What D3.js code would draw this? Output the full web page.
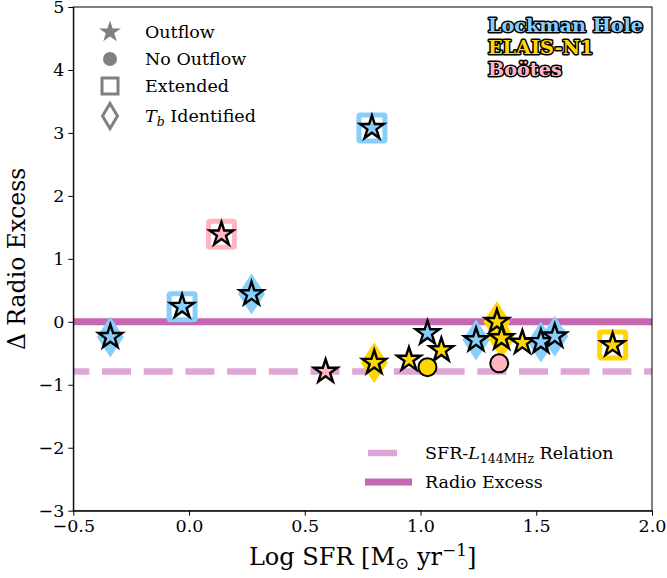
<!DOCTYPE html>
<html>
<head>
<meta charset="utf-8">
<script src="https://cdn.jsdelivr.net/npm/d3@7"></script>
<style>
body { margin: 0; background: #fff; }
text { font-family: "DejaVu Serif", serif; fill: #000; }
</style>
</head>
<body>
<svg id="chart" width="667" height="578"></svg>
<script>

//data
var field = ["L","L","B","L","L","B","E","E","L","E","E","L","E","E","B","E","L","L","E"];
var log_sfr = [-0.34,-0.03,0.14,0.27,0.79,0.59,0.80,0.95,1.03,1.03,1.09,1.24,1.33,1.35,1.34,1.44,1.52,1.58,1.83];
var radio_excess = [-0.24,0.24,1.39,0.44,3.08,-0.79,-0.65,-0.60,-0.18,-0.72,-0.45,-0.29,0.00,-0.26,-0.66,-0.33,-0.32,-0.23,-0.37];
var has_outflow = [1,1,1,1,1,1,1,1,1,0,1,1,1,1,0,1,1,1,1];
var is_extended = [0,1,1,0,1,0,0,0,0,0,0,0,0,0,0,0,0,0,1];
var tb_identified = [1,0,0,1,0,0,1,0,0,0,0,1,1,1,0,0,1,1,0];

var x_ticks = [-0.5,0,0.5,1,1.5,2];
var y_ticks = [-3,-2,-1,0,1,2,3,4,5];
var excess_level = 0;
var relation_level = -0.79;

var field_names = ["Lockman Hole","ELAIS-N1","Boötes"];
var field_keys = ["L","E","B"];
var field_colours = {"L":"#87cefa","E":"#ffd700","B":"#ffb6c1"};

var points = log_sfr.map(function(d,i){
    return {x:d, y:radio_excess[i], field:field[i], outflow:has_outflow[i],
            extended:is_extended[i], tb:tb_identified[i]};
});

var svg = d3.select("#chart");
var plot_left = 73.3, plot_right = 652, plot_top = 7, plot_bottom = 510.7;

var x_scale = d3.scaleLinear().domain([-0.5,2]).range([plot_left,plot_right]);
var y_scale = d3.scaleLinear().domain([-3,5]).range([plot_bottom,plot_top]);

var star_r = 12.5;
var star_size = star_r * star_r / 0.8908130915292852;
var diamond_path = function(hw,hh){ return "M0," + (-hh) + "L" + hw + ",0L0," + hh + "L" + (-hw) + ",0Z"; };

svg.append("defs").append("clipPath").attr("id","plot_clip")
    .append("rect").attr("x",plot_left).attr("y",plot_top)
    .attr("width",plot_right-plot_left).attr("height",plot_bottom-plot_top);

//reference lines
var line_group = svg.append("g").attr("clip-path","url(#plot_clip)");
line_group.append("line")
    .attr("x1",plot_left).attr("x2",plot_right)
    .attr("y1",y_scale(relation_level)).attr("y2",y_scale(relation_level))
    .attr("stroke","#dea6d6").attr("stroke-width",6.5)
    .attr("stroke-dasharray","29,12.7").attr("stroke-dashoffset",13);
line_group.append("line")
    .attr("x1",plot_left).attr("x2",plot_right)
    .attr("y1",y_scale(excess_level)).attr("y2",y_scale(excess_level))
    .attr("stroke","#c466b0").attr("stroke-width",7);

//background markers: extended squares, Tb diamonds
var marks = svg.append("g");
marks.selectAll(".tb_mark")
    .data(points.filter(f => f.tb))
    .join("path").attr("class","tb_mark")
    .attr("d", diamond_path(13.5,20.5))
    .attr("transform", d => "translate(" + x_scale(d.x) + "," + y_scale(d.y) + ")")
    .attr("fill", d => field_colours[d.field]);

marks.selectAll(".ext_mark")
    .data(points.filter(f => f.extended))
    .join("rect").attr("class","ext_mark")
    .attr("x", d => x_scale(d.x) - 13).attr("y", d => y_scale(d.y) - 13)
    .attr("width",26).attr("height",26).attr("rx",1.5)
    .attr("fill","none").attr("stroke", d => field_colours[d.field]).attr("stroke-width",5);

//stars and circles
marks.selectAll(".star_mark")
    .data(points.filter(f => f.outflow))
    .join("path").attr("class","star_mark")
    .attr("d", d3.symbol(d3.symbolStar, star_size))
    .attr("transform", d => "translate(" + x_scale(d.x) + "," + y_scale(d.y) + ")")
    .attr("fill", d => field_colours[d.field])
    .attr("stroke","#000").attr("stroke-width",2.4).attr("stroke-linejoin","miter");

marks.selectAll(".circle_mark")
    .data(points.filter(f => !f.outflow))
    .join("circle").attr("class","circle_mark")
    .attr("cx", d => x_scale(d.x)).attr("cy", d => y_scale(d.y)).attr("r",9)
    .attr("fill", d => field_colours[d.field])
    .attr("stroke","#000").attr("stroke-width",2);

//axes
var fmt = d3.format(".1f");
var x_axis = svg.append("g").attr("transform","translate(0," + plot_bottom + ")")
    .call(d3.axisBottom(x_scale).tickValues(x_ticks).tickFormat(fmt).tickSize(5).tickSizeOuter(0).tickPadding(4));
var y_axis = svg.append("g").attr("transform","translate(" + plot_left + ",0)")
    .call(d3.axisLeft(y_scale).tickValues(y_ticks).tickFormat(d3.format("d")).tickSize(5).tickSizeOuter(0).tickPadding(4));
[x_axis,y_axis].forEach(function(a){
    a.selectAll("text").attr("font-family","DejaVu Serif").attr("font-size",17.5).attr("fill","#000");
    a.selectAll("line").attr("stroke","#000").attr("stroke-width",1);
    a.select(".domain").attr("stroke","#000").attr("stroke-width",1);
});
svg.append("rect").attr("x",plot_left).attr("y",plot_top)
    .attr("width",plot_right-plot_left).attr("height",plot_bottom-plot_top)
    .attr("fill","none").attr("stroke","#000").attr("stroke-width",1);

//axis labels
var x_label = svg.append("text").attr("x",(plot_left+plot_right)/2).attr("y",565)
    .attr("text-anchor","middle").attr("font-size",24);
x_label.append("tspan").text("Log SFR [M");
x_label.append("tspan").attr("font-size",17).attr("dy",4).text("⊙");
x_label.append("tspan").attr("dy",-4).text(" yr");
x_label.append("tspan").attr("font-size",17).attr("dy",-9).text("−1");
x_label.append("tspan").attr("dy",9).text("]");

svg.append("text").attr("transform","translate(25," + ((plot_top+plot_bottom)/2) + ") rotate(-90)")
    .attr("text-anchor","middle").attr("font-size",23.5).text("Δ Radio Excess");

//marker legend
var legend_rows = ["Outflow","No Outflow","Extended","Tb"];
var legend_y = [32,59,86,116];
var grey = "#808080";
var lg = svg.append("g");
lg.append("path").attr("d", d3.symbol(d3.symbolStar, 11.5*11.5/0.8908130915292852))
    .attr("transform","translate(110," + legend_y[0] + ")").attr("fill",grey);
lg.append("circle").attr("cx",110).attr("cy",legend_y[1]).attr("r",7).attr("fill",grey);
lg.append("rect").attr("x",102).attr("y",legend_y[2]-8).attr("width",16).attr("height",16)
    .attr("fill","none").attr("stroke",grey).attr("stroke-width",3);
lg.append("path").attr("d", diamond_path(7.5,12.5))
    .attr("transform","translate(110," + legend_y[3] + ")")
    .attr("fill","none").attr("stroke",grey).attr("stroke-width",3);
legend_rows.forEach(function(d,i){
    var t = lg.append("text").attr("x",145).attr("y",legend_y[i] + 6).attr("font-size",17.5);
    if (d === "Tb") {
        t.append("tspan").attr("font-style","italic").text("T");
        t.append("tspan").attr("font-style","italic").attr("font-size",12.5).attr("dy",4).text("b");
        t.append("tspan").attr("dy",-4).text(" Identified");
    } else {
        t.text(d);
    }
});

//field legend (outlined text)
field_names.forEach(function(d,i){
    svg.append("text").attr("x",488).attr("y",32 + i*22)
        .attr("font-size",19.2).attr("font-weight","bold")
        .style("fill",field_colours[field_keys[i]])
        .style("stroke","#000").style("stroke-width","3px").style("stroke-linejoin","round")
        .style("paint-order","stroke")
        .text(d);
});

//line legend
svg.append("line").attr("x1",368).attr("x2",397).attr("y1",453).attr("y2",453)
    .attr("stroke","#dea6d6").attr("stroke-width",6.5);
svg.append("line").attr("x1",365).attr("x2",412).attr("y1",482).attr("y2",482)
    .attr("stroke","#c466b0").attr("stroke-width",7);
var rel_text = svg.append("text").attr("x",425).attr("y",459).attr("font-size",17.5);
rel_text.append("tspan").text("SFR-");
rel_text.append("tspan").attr("font-style","italic").text("L");
rel_text.append("tspan").attr("font-size",12.5).attr("dy",4).text("144MHz");
rel_text.append("tspan").attr("dy",-4).text(" Relation");
svg.append("text").attr("x",425).attr("y",488).attr("font-size",17.5).text("Radio Excess");

</script>
</body>
</html>
